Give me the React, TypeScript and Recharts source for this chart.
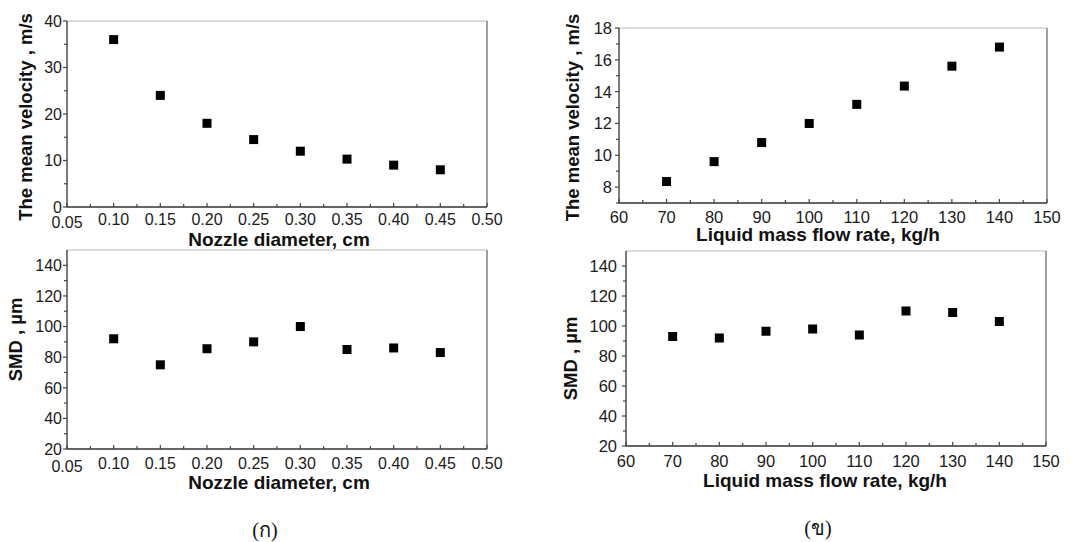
import React from 'react';
import { ScatterChart, Scatter, XAxis, YAxis, ReferenceLine, Label } from 'recharts';

// ---------- data ----------
const nozzleDiameter = [0.1, 0.15, 0.2, 0.25, 0.3, 0.35, 0.4, 0.45];
const velocityByNozzle = [36, 24, 18, 14.5, 12, 10.3, 9, 8];
const smdByNozzle = [92, 75, 85.5, 90, 100, 85, 86, 83];

const flowRate = [70, 80, 90, 100, 110, 120, 130, 140];
const velocityByFlow = [8.35, 9.6, 10.8, 12, 13.2, 14.35, 15.6, 16.8];
const smdByFlow = [93, 92, 96.5, 98, 94, 110, 109, 103];

// ---------- ticks ----------
const nozzleMajorTicks = [0.05, 0.1, 0.15, 0.2, 0.25, 0.3, 0.35, 0.4, 0.45, 0.5];
const nozzleMinorTicks = [0.075, 0.125, 0.175, 0.225, 0.275, 0.325, 0.375, 0.425, 0.475];
const flowMajorTicks = [60, 70, 80, 90, 100, 110, 120, 130, 140, 150];
const flowMinorTicks = [65, 75, 85, 95, 105, 115, 125, 135, 145];
const velNozzleMajorTicks = [0, 10, 20, 30, 40];
const velNozzleMinorTicks = [5, 15, 25, 35];
const velFlowMajorTicks = [8, 10, 12, 14, 16, 18];
const velFlowMinorTicks = [7, 9, 11, 13, 15, 17];
const smdMajorTicks = [20, 40, 60, 80, 100, 120, 140];
const smdMinorTicks = [30, 50, 70, 90, 110, 130];

const panelLabels = ['(ก)', '(ข)'];
const xTitles = ['Nozzle diameter, cm', 'Liquid mass flow rate, kg/h'];
const yTitles = ['The mean velocity , m/s', 'SMD , \u00b5m'];

const FONT = '"Liberation Sans", Arial, Helvetica, sans-serif';

const zip = (xs: number[], ys: number[]) => xs.map((x, i) => ({ x, y: ys[i] }));
const isIn = (v: number, arr: number[]) => arr.some((m) => Math.abs(m - v) < 1e-9);

type PanelProps = {
  left: number; top: number; width: number; height: number;
  mTop: number; mRight: number; yAxisWidth: number; xAxisHeight: number;
  xs: number[]; ys: number[];
  xDomain: [number, number]; yDomain: [number, number];
  xMajor: number[]; xMinor: number[]; yMajor: number[]; yMinor: number[];
  xDecimals: number;
  xTitle: string; yTitle: string;
  tickFont: number; xTickBase: number; firstXShift: number; yTickGap: number;
  xTitleBase: number; xTitleShift: number;
  yTitleX: number; yTitleShift: number;
};

function Panel(p: PanelProps) {
  const data = zip(p.xs, p.ys);
  const XTick = (props: any) => {
    const { x, y, payload } = props;
    const v = payload.value as number;
    const major = isIn(v, p.xMajor);
    const shift = Math.abs(v - p.xDomain[0]) < 1e-9 ? p.firstXShift : 0;
    return (
      <g>
        <line x1={x} x2={x} y1={y} y2={y - (major ? 4 : 3)} stroke="#444" strokeWidth={1.2} />
        {major && (
          <text x={x} y={y + p.xTickBase + shift} textAnchor="middle" fontSize={p.tickFont} fontFamily={FONT} fill="#1a1a1a">
            {v.toFixed(p.xDecimals)}
          </text>
        )}
      </g>
    );
  };
  const YTick = (props: any) => {
    const { x, y, payload } = props;
    const v = payload.value as number;
    const major = isIn(v, p.yMajor);
    return (
      <g>
        <line x1={x} x2={x - (major ? 4 : 3)} y1={y} y2={y} stroke="#444" strokeWidth={1.2} />
        {major && (
          <text x={x - p.yTickGap} y={y} dy="0.36em" textAnchor="end" fontSize={p.tickFont} fontFamily={FONT} fill="#1a1a1a">
            {v}
          </text>
        )}
      </g>
    );
  };
  const XTitle = (props: any) => {
    const vb = props.viewBox || { x: 0, y: 0, width: 0, height: 0 };
    return (
      <text x={vb.x + vb.width / 2 + p.xTitleShift} y={vb.y + p.xTitleBase} textAnchor="middle" fontSize={19} fontWeight="bold" fontFamily={FONT} fill="#111">
        {p.xTitle}
      </text>
    );
  };
  const YTitle = (props: any) => {
    const vb = props.viewBox || { x: 0, y: 0, width: 0, height: 0 };
    const cx = vb.x + p.yTitleX;
    const cy = vb.y + vb.height / 2 + p.yTitleShift;
    return (
      <text x={cx} y={cy} dy="0.36em" transform={`rotate(-90, ${cx}, ${cy})`} textAnchor="middle" fontSize={18.5} fontWeight="bold" fontFamily={FONT} fill="#111">
        {p.yTitle}
      </text>
    );
  };
  return (
    <div style={{ position: 'absolute', left: p.left, top: p.top, width: p.width, height: p.height }}>
      <ScatterChart
        width={p.width}
        height={p.height}
        margin={{ top: p.mTop, right: p.mRight, left: 0, bottom: 0 }}
      >
        <XAxis
          type="number"
          dataKey="x"
          domain={p.xDomain}
          allowDataOverflow
          ticks={[...p.xMajor, ...p.xMinor].sort((a, b) => a - b)}
          interval={0}
          tickSize={0}
          tickMargin={0}
          tick={<XTick />}
          height={p.xAxisHeight}
          axisLine={{ stroke: '#333', strokeWidth: 1.3 }}
        >
          <Label content={<XTitle />} />
        </XAxis>
        <YAxis
          type="number"
          dataKey="y"
          domain={p.yDomain}
          allowDataOverflow
          ticks={[...p.yMajor, ...p.yMinor].sort((a, b) => a - b)}
          interval={0}
          tickSize={0}
          tickMargin={0}
          tick={<YTick />}
          width={p.yAxisWidth}
          axisLine={{ stroke: '#333', strokeWidth: 1.3 }}
        >
          <Label content={<YTitle />} />
        </YAxis>
        <ReferenceLine y={p.yDomain[1]} stroke="#bbb" strokeWidth={1.2} />
        <ReferenceLine x={p.xDomain[1]} stroke="#777" strokeWidth={1.4} />
        <Scatter
          data={data}
          isAnimationActive={false}
          shape={(s: any) => <rect x={s.cx - 4.5} y={s.cy - 4.5} width={9} height={9} fill="#000" />}
        />
      </ScatterChart>
    </div>
  );
}

export default function App() {
  return (
    <div style={{ position: 'absolute', left: 0, top: 0, width: 1087, height: 542, background: '#fff', overflow: 'hidden' }}>
      <Panel
        left={0} top={0} width={540} height={250}
        mTop={21} mRight={53} yAxisWidth={67} xAxisHeight={43}
        xs={nozzleDiameter} ys={velocityByNozzle}
        xDomain={[0.05, 0.5]} yDomain={[0, 40]}
        xMajor={nozzleMajorTicks} xMinor={nozzleMinorTicks}
        yMajor={velNozzleMajorTicks} yMinor={velNozzleMinorTicks}
        xDecimals={2} xTitle={xTitles[0]} yTitle={yTitles[0]}
        tickFont={16} xTickBase={18} firstXShift={3} yTickGap={5}
        xTitleBase={38.5} xTitleShift={2} yTitleX={25} yTitleShift={3}
      />
      <Panel
        left={540} top={0} width={547} height={250}
        mTop={28} mRight={40} yAxisWidth={79} xAxisHeight={47}
        xs={flowRate} ys={velocityByFlow}
        xDomain={[60, 150]} yDomain={[7, 18]}
        xMajor={flowMajorTicks} xMinor={flowMinorTicks}
        yMajor={velFlowMajorTicks} yMinor={velFlowMinorTicks}
        xDecimals={0} xTitle={xTitles[1]} yTitle={yTitles[0]}
        tickFont={16.5} xTickBase={19.5} firstXShift={0} yTickGap={7}
        xTitleBase={38} xTitleShift={-15} yTitleX={32} yTitleShift={2}
      />
      <Panel
        left={0} top={240} width={540} height={260}
        mTop={10} mRight={53} yAxisWidth={67} xAxisHeight={51}
        xs={nozzleDiameter} ys={smdByNozzle}
        xDecimals={2}
        xDomain={[0.05, 0.5]} yDomain={[20, 150]}
        xMajor={nozzleMajorTicks} xMinor={nozzleMinorTicks}
        yMajor={smdMajorTicks} yMinor={smdMinorTicks}
        xTitle={xTitles[0]} yTitle={yTitles[1]}
        tickFont={16} xTickBase={19.5} firstXShift={3} yTickGap={5}
        xTitleBase={40} xTitleShift={2} yTitleX={15} yTitleShift={-10}
      />
      <Panel
        left={540} top={240} width={547} height={260}
        mTop={11} mRight={41} yAxisWidth={86} xAxisHeight={54}
        xs={flowRate} ys={smdByFlow}
        xDomain={[60, 150]} yDomain={[20, 150]}
        xMajor={flowMajorTicks} xMinor={flowMinorTicks}
        yMajor={smdMajorTicks} yMinor={smdMinorTicks}
        xDecimals={0} xTitle={xTitles[1]} yTitle={yTitles[1]}
        tickFont={16.5} xTickBase={20.5} firstXShift={0} yTickGap={9}
        xTitleBase={40.5} xTitleShift={-11} yTitleX={30} yTitleShift={10}
      />
      <div style={{ position: 'absolute', left: 215, top: 519, width: 100, height: 22, lineHeight: '22px', textAlign: 'center', fontSize: 20, fontFamily: 'serif', color: '#111' }}>
        {panelLabels[0]}
      </div>
      <div style={{ position: 'absolute', left: 768, top: 517, width: 100, height: 22, lineHeight: '22px', textAlign: 'center', fontSize: 20, fontFamily: 'serif', color: '#111' }}>
        {panelLabels[1]}
      </div>
    </div>
  );
}
